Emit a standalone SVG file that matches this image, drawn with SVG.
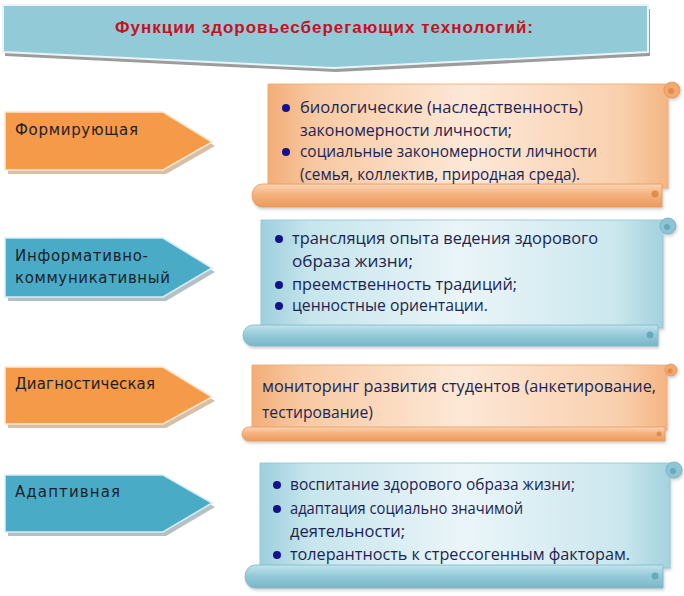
<svg xmlns="http://www.w3.org/2000/svg" width="684" height="596" viewBox="0 0 684 596">
<style>
.title{font-family:"Liberation Sans","DejaVu Sans",sans-serif;font-weight:bold;font-size:17px;fill:#c4121f}
.lbl{font-family:"DejaVu Sans","Liberation Sans",sans-serif;font-size:15px;fill:#1e1e2a}
.txt{font-family:"Open Sans","Liberation Sans",sans-serif;font-size:17px;fill:#1c2552}
.bul{fill:#12128a}
.arO{fill:#f59a48;stroke:#fde6d0;stroke-width:1.5}
.arB{fill:#4aabc7;stroke:#d6eef5;stroke-width:1.5}
.shO{fill:#d6bfa6}
.shB{fill:#b3c0c5}
.bodyO{fill:url(#gBodyO);stroke:#eeaa74;stroke-width:0.8}
.bodyB{fill:url(#gBodyB);stroke:#92c6d4;stroke-width:0.8}
.rollO{fill:url(#gRollO);stroke:#e89a5c;stroke-width:0.8}
.rollB{fill:url(#gRollB);stroke:#7db8c9;stroke-width:0.8}
.curlO{fill:#f2a86e;stroke:#e4935a;stroke-width:0.8}
.curlB{fill:#8ec5d4;stroke:#74b0c2;stroke-width:0.8}
.dotO{fill:#e08c4f}
.dotB{fill:#6aa9bc}
</style>
<defs>
<linearGradient id="gBodyO" x1="0" y1="0" x2="1" y2="0">
<stop offset="0" stop-color="#f3ad78"/>
<stop offset="0.12" stop-color="#f8c9a2"/>
<stop offset="0.5" stop-color="#fde8d7"/>
<stop offset="0.88" stop-color="#f9d0ae"/>
<stop offset="1" stop-color="#f4b583"/>
</linearGradient>
<linearGradient id="gBodyB" x1="0" y1="0" x2="1" y2="0">
<stop offset="0" stop-color="#9dcfdc"/>
<stop offset="0.12" stop-color="#c6e5ed"/>
<stop offset="0.5" stop-color="#eaf5f8"/>
<stop offset="0.88" stop-color="#cbe7ee"/>
<stop offset="1" stop-color="#a3d2de"/>
</linearGradient>
<linearGradient id="gRollO" x1="0" y1="0" x2="0" y2="1">
<stop offset="0" stop-color="#fad3b2"/>
<stop offset="0.45" stop-color="#f5b37f"/>
<stop offset="1" stop-color="#ec9a5c"/>
</linearGradient>
<linearGradient id="gRollB" x1="0" y1="0" x2="0" y2="1">
<stop offset="0" stop-color="#c2e4ed"/>
<stop offset="0.45" stop-color="#96cbda"/>
<stop offset="1" stop-color="#79b6c8"/>
</linearGradient>
<filter id="sh" x="-5%" y="-10%" width="110%" height="130%">
<feDropShadow dx="1" dy="2" stdDeviation="1.5" flood-color="#777" flood-opacity="0.35"/>
</filter>
</defs>
<rect width="684" height="596" fill="#ffffff"/>

<g id="title">
<polygon points="5,9 650,9 650,56 336,72 5,56" fill="#9c9c9c"/>
<polygon points="3,5 648,5 648,52 334,68 3,52" fill="#92cad8" stroke="#e8f4f7" stroke-width="2"/>
<text class="title" x="115" y="33" textLength="418" lengthAdjust="spacing">Функции здоровьесберегающих технологий:</text>
</g>

<g id="arrow1">
<polygon class="shO" points="8,116 166,116 215,146 166,174 8,174"/>
<polygon class="arO" points="5,112 163,112 212,142 163,170 5,170"/>
<text class="lbl" x="15" y="135" textLength="123" lengthAdjust="spacing">Формирующая</text>
</g>

<g id="arrow2">
<polygon class="shB" points="8,242 166,242 215,272 166,301 8,301"/>
<polygon class="arB" points="5,238 163,238 212,268 163,297 5,297"/>
<text class="lbl" x="15" y="261" textLength="133" lengthAdjust="spacing">Информативно-</text>
<text class="lbl" x="15" y="283" textLength="155" lengthAdjust="spacing">коммуникативный</text>
</g>

<g id="arrow3">
<polygon class="shO" points="8,371 166,371 215,401 166,428 8,428"/>
<polygon class="arO" points="5,367 163,367 212,397 163,424 5,424"/>
<text class="lbl" x="15" y="389" textLength="140" lengthAdjust="spacing">Диагностическая</text>
</g>

<g id="arrow4">
<polygon class="shB" points="8,479 166,479 215,507 166,536 8,536"/>
<polygon class="arB" points="5,475 163,475 212,503 163,532 5,532"/>
<text class="lbl" x="15" y="497" textLength="105" lengthAdjust="spacing">Адаптивная</text>
</g>

<g id="scroll1" filter="url(#sh)">
<rect class="bodyO" x="268" y="84" width="400" height="104"/>
<circle class="curlO" cx="672" cy="90" r="8"/>
<circle class="dotO" cx="671" cy="91" r="3"/>
<path class="rollO" d="M262,184 L662,184 L662,207 L262,207 A10,11.5 0 0 1 262,184 Z"/>
<circle class="dotO" cx="655" cy="194" r="3.5"/>
</g>
<g id="text1">
<circle class="bul" cx="286" cy="108" r="4"/>
<text class="txt" x="300" y="113" textLength="283" lengthAdjust="spacingAndGlyphs">биологические (наследственность)</text>
<text class="txt" x="300" y="136" textLength="212" lengthAdjust="spacingAndGlyphs">закономерности личности;</text>
<circle class="bul" cx="286" cy="152" r="4"/>
<text class="txt" x="300" y="157" textLength="297" lengthAdjust="spacingAndGlyphs">социальные закономерности личности</text>
<text class="txt" x="300" y="180" textLength="280" lengthAdjust="spacingAndGlyphs">(семья, коллектив, природная среда).</text>
</g>

<g id="scroll2" filter="url(#sh)">
<rect class="bodyB" x="261" y="220" width="402" height="108"/>
<circle class="curlB" cx="668" cy="226" r="8"/>
<circle class="dotB" cx="667" cy="227" r="3"/>
<path class="rollB" d="M253,325 L658,325 L658,346 L253,346 A10,10.5 0 0 1 253,325 Z"/>
<circle class="dotB" cx="650" cy="335" r="3.5"/>
</g>
<g id="text2">
<circle class="bul" cx="279" cy="239" r="4"/>
<text class="txt" x="292" y="244" textLength="306" lengthAdjust="spacingAndGlyphs">трансляция опыта ведения здорового</text>
<text class="txt" x="292" y="267" textLength="121" lengthAdjust="spacingAndGlyphs">образа жизни;</text>
<circle class="bul" cx="279" cy="285" r="4"/>
<text class="txt" x="292" y="290" textLength="225" lengthAdjust="spacingAndGlyphs">преемственность традиций;</text>
<circle class="bul" cx="279" cy="306" r="4"/>
<text class="txt" x="292" y="311" textLength="196" lengthAdjust="spacingAndGlyphs">ценностные ориентации.</text>
</g>

<g id="scroll3" filter="url(#sh)">
<rect class="bodyO" x="252" y="365" width="415" height="65"/>
<circle class="curlO" cx="671" cy="370" r="6"/>
<circle class="dotO" cx="670" cy="371" r="2.5"/>
<path class="rollO" d="M249,427 L665,427 L665,441 L249,441 A7,7 0 0 1 249,427 Z"/>
<circle class="dotO" cx="659" cy="434" r="2.5"/>
</g>
<g id="text3">
<text class="txt" x="262" y="392" textLength="394" lengthAdjust="spacingAndGlyphs">мониторинг развития студентов (анкетирование,</text>
<text class="txt" x="262" y="418" textLength="111" lengthAdjust="spacingAndGlyphs">тестирование)</text>
</g>

<g id="scroll4" filter="url(#sh)">
<rect class="bodyB" x="260" y="463" width="410" height="105"/>
<circle class="curlB" cx="674" cy="470" r="8"/>
<circle class="dotB" cx="673" cy="471" r="3"/>
<path class="rollB" d="M255,565 L663,565 L663,588 L255,588 A10,11.5 0 0 1 255,565 Z"/>
<circle class="dotB" cx="655" cy="576" r="3.5"/>
</g>
<g id="text4">
<circle class="bul" cx="277" cy="485" r="4"/>
<text class="txt" x="290" y="490" textLength="285" lengthAdjust="spacingAndGlyphs">воспитание здорового образа жизни;</text>
<circle class="bul" cx="277" cy="509" r="4"/>
<text class="txt" x="290" y="514" textLength="233" lengthAdjust="spacingAndGlyphs">адаптация социально значимой</text>
<text class="txt" x="290" y="537" textLength="115" lengthAdjust="spacingAndGlyphs">деятельности;</text>
<circle class="bul" cx="277" cy="555" r="4"/>
<text class="txt" x="290" y="560" textLength="340" lengthAdjust="spacingAndGlyphs">толерантность к стрессогенным факторам.</text>
</g>

<g id="connectors"></g>
</svg>
